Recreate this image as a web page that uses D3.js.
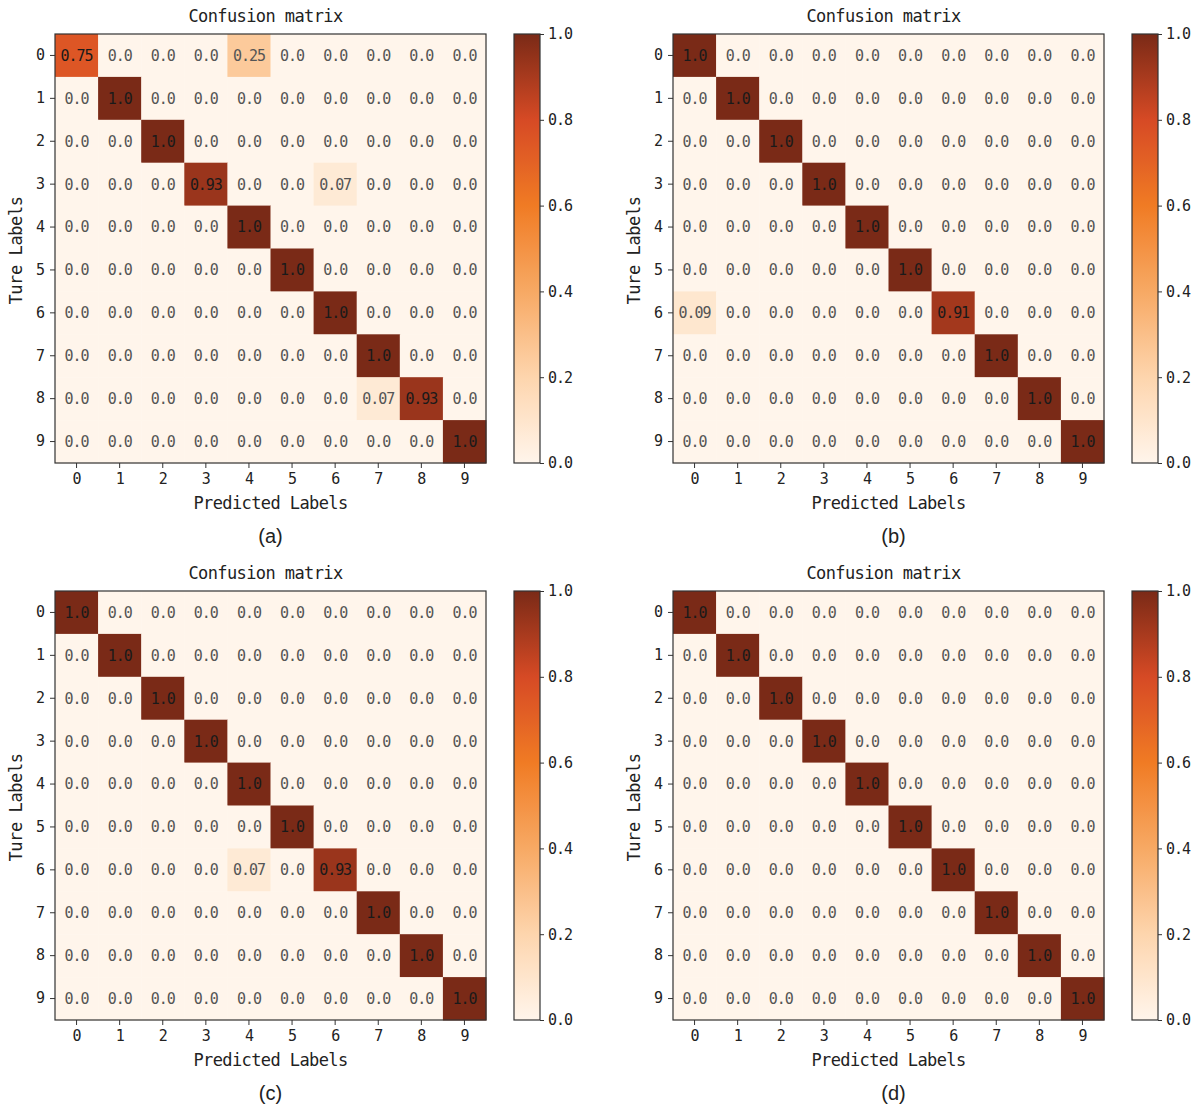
<!DOCTYPE html>
<html>
<head>
<meta charset="utf-8">
<script src="https://cdn.jsdelivr.net/npm/d3@7"></script>
<style>
  body { margin: 0; background: #fff; }
  svg { display: block; }
  text { font-family: "DejaVu Sans Mono", monospace; fill: #222; }
</style>
</head>
<body>
<div id="chart"></div>
<script>
const classes = ["0", "1", "2", "3", "4", "5", "6", "7", "8", "9"];
const panelNames = ["(a)", "(b)", "(c)", "(d)"];
const colorbarTicks = [0, 0.2, 0.4, 0.6, 0.8, 1.0];

const matrixA = [
  [0.75, 0, 0, 0, 0.25, 0, 0, 0, 0, 0],
  [0, 1, 0, 0, 0, 0, 0, 0, 0, 0],
  [0, 0, 1, 0, 0, 0, 0, 0, 0, 0],
  [0, 0, 0, 0.93, 0, 0, 0.07, 0, 0, 0],
  [0, 0, 0, 0, 1, 0, 0, 0, 0, 0],
  [0, 0, 0, 0, 0, 1, 0, 0, 0, 0],
  [0, 0, 0, 0, 0, 0, 1, 0, 0, 0],
  [0, 0, 0, 0, 0, 0, 0, 1, 0, 0],
  [0, 0, 0, 0, 0, 0, 0, 0.07, 0.93, 0],
  [0, 0, 0, 0, 0, 0, 0, 0, 0, 1]
];
const matrixB = [
  [1, 0, 0, 0, 0, 0, 0, 0, 0, 0],
  [0, 1, 0, 0, 0, 0, 0, 0, 0, 0],
  [0, 0, 1, 0, 0, 0, 0, 0, 0, 0],
  [0, 0, 0, 1, 0, 0, 0, 0, 0, 0],
  [0, 0, 0, 0, 1, 0, 0, 0, 0, 0],
  [0, 0, 0, 0, 0, 1, 0, 0, 0, 0],
  [0.09, 0, 0, 0, 0, 0, 0.91, 0, 0, 0],
  [0, 0, 0, 0, 0, 0, 0, 1, 0, 0],
  [0, 0, 0, 0, 0, 0, 0, 0, 1, 0],
  [0, 0, 0, 0, 0, 0, 0, 0, 0, 1]
];
const matrixC = [
  [1, 0, 0, 0, 0, 0, 0, 0, 0, 0],
  [0, 1, 0, 0, 0, 0, 0, 0, 0, 0],
  [0, 0, 1, 0, 0, 0, 0, 0, 0, 0],
  [0, 0, 0, 1, 0, 0, 0, 0, 0, 0],
  [0, 0, 0, 0, 1, 0, 0, 0, 0, 0],
  [0, 0, 0, 0, 0, 1, 0, 0, 0, 0],
  [0, 0, 0, 0, 0.07, 0, 0.93, 0, 0, 0],
  [0, 0, 0, 0, 0, 0, 0, 1, 0, 0],
  [0, 0, 0, 0, 0, 0, 0, 0, 1, 0],
  [0, 0, 0, 0, 0, 0, 0, 0, 0, 1]
];
const matrixD = [
  [1, 0, 0, 0, 0, 0, 0, 0, 0, 0],
  [0, 1, 0, 0, 0, 0, 0, 0, 0, 0],
  [0, 0, 1, 0, 0, 0, 0, 0, 0, 0],
  [0, 0, 0, 1, 0, 0, 0, 0, 0, 0],
  [0, 0, 0, 0, 1, 0, 0, 0, 0, 0],
  [0, 0, 0, 0, 0, 1, 0, 0, 0, 0],
  [0, 0, 0, 0, 0, 0, 1, 0, 0, 0],
  [0, 0, 0, 0, 0, 0, 0, 1, 0, 0],
  [0, 0, 0, 0, 0, 0, 0, 0, 1, 0],
  [0, 0, 0, 0, 0, 0, 0, 0, 0, 1]
];
const matrices = [matrixA, matrixB, matrixC, matrixD];

// orange-brown colour map, like the matplotlib one in the figure
const color = d3.scaleLinear()
  .domain([0, 0.2, 0.4, 0.6, 0.8, 1])
  .range(["#fff5eb", "#fdd5ad", "#f7a964", "#f07b24", "#d64a25", "#7a2a17"])
  .interpolate(d3.interpolateRgb)
  .clamp(true);

const fmt = v => (v === 0 || v === 1) ? v.toFixed(1) : String(v);

const W = 1196, H = 1110;
const svg = d3.select("#chart").append("svg")
  .attr("width", W).attr("height", H);

const defs = svg.append("defs");
const grad = defs.append("linearGradient")
  .attr("id", "cbar").attr("x1", 0).attr("y1", 1).attr("x2", 0).attr("y2", 0);
d3.range(0, 1.0001, 0.05).forEach(t => {
  grad.append("stop").attr("offset", t).attr("stop-color", color(t));
});

const size = { w: 431, h: 429 };
const origins = [
  { x: 55, y: 34 }, { x: 673, y: 34 },
  { x: 55, y: 591 }, { x: 673, y: 591 }
];

// SimHei-ish look: taller glyphs, tight spacing
const tall = (sel, px, sp) => sel
  .style("font-size", px + "px")
  .style("font-family", "DejaVu Sans Mono")
  .style("letter-spacing", (sp == null ? -px * 0.07 : sp) + "px");

matrices.forEach((m, i) => {
  const o = origins[i];
  const g = svg.append("g").attr("transform", `translate(${o.x},${o.y})`);

  const x = d3.scaleBand().domain(classes).range([0, size.w]);
  const y = d3.scaleBand().domain(classes).range([0, size.h]);
  const cells = m.flatMap((row, r) => row.map((v, c) => ({ r: classes[r], c: classes[c], v })));

  g.selectAll("rect.cell")
    .data(cells)
    .join("rect")
    .attr("class", "cell")
    .attr("x", d => x(d.c))
    .attr("y", d => y(d.r))
    .attr("width", x.bandwidth() + 0.5)
    .attr("height", y.bandwidth() + 0.5)
    .attr("fill", d => color(d.v));

  g.selectAll("text.val")
    .data(cells)
    .join("text")
    .attr("class", "val")
    .attr("x", d => x(d.c) + x.bandwidth() / 2)
    .attr("y", d => y(d.r) + y.bandwidth() / 2)
    .attr("dy", "0.36em")
    .attr("text-anchor", "middle")
    .call(tall, 15)
    .style("fill", d => d.v > 0.5 ? "#1a1a1a" : "#555")
    .text(d => fmt(d.v));

  g.append("rect")
    .attr("width", size.w).attr("height", size.h)
    .attr("fill", "none").attr("stroke", "#333").attr("stroke-width", 1.2);

  g.append("g")
    .attr("transform", `translate(0,${size.h})`)
    .call(d3.axisBottom(x).tickSize(5).tickPadding(5))
    .call(a => a.select(".domain").remove())
    .call(a => a.selectAll("text").call(tall, 15).style("fill", "#222"))
    .call(a => a.selectAll("line").attr("stroke", "#333"));

  g.append("g")
    .call(d3.axisLeft(y).tickSize(5).tickPadding(6))
    .call(a => a.select(".domain").remove())
    .call(a => a.selectAll("text").call(tall, 15).style("fill", "#222"))
    .call(a => a.selectAll("line").attr("stroke", "#333"));

  g.append("text")
    .attr("x", size.w / 2 - 5).attr("y", -12)
    .attr("text-anchor", "middle")
    .call(tall, 17, -0.6)
    .text("Confusion matrix");

  g.append("text")
    .attr("x", size.w / 2).attr("y", size.h + 46)
    .attr("text-anchor", "middle")
    .call(tall, 17, -0.6)
    .text("Predicted Labels");

  g.append("text")
    .attr("transform", `translate(-33,${size.h / 2 + 2}) rotate(-90)`)
    .attr("text-anchor", "middle")
    .call(tall, 17, -0.4)
    .text("Ture Labels");

  g.append("text")
    .attr("x", size.w / 2 + (i % 2 ? 5 : 0)).attr("y", size.h + 80)
    .attr("text-anchor", "middle")
    .style("font-family", "Liberation Sans, Arial, sans-serif")
    .style("font-size", "20px")
    .text(panelNames[i]);

  // colour bar
  const cb = g.append("g").attr("transform", `translate(459,0)`);
  const cy = d3.scaleLinear().domain([0, 1]).range([size.h, 0]);
  cb.append("rect")
    .attr("width", 26).attr("height", size.h)
    .attr("fill", "url(#cbar)")
    .attr("stroke", "#333").attr("stroke-width", 1.2);
  cb.append("g")
    .attr("transform", "translate(26,0)")
    .call(d3.axisRight(cy).tickValues(colorbarTicks).tickFormat(d3.format(".1f")).tickSize(4).tickPadding(4))
    .call(a => a.select(".domain").remove())
    .call(a => a.selectAll("text").call(tall, 15).style("fill", "#222"))
    .call(a => a.selectAll("line").attr("stroke", "#333"));
});
</script>
</body>
</html>
